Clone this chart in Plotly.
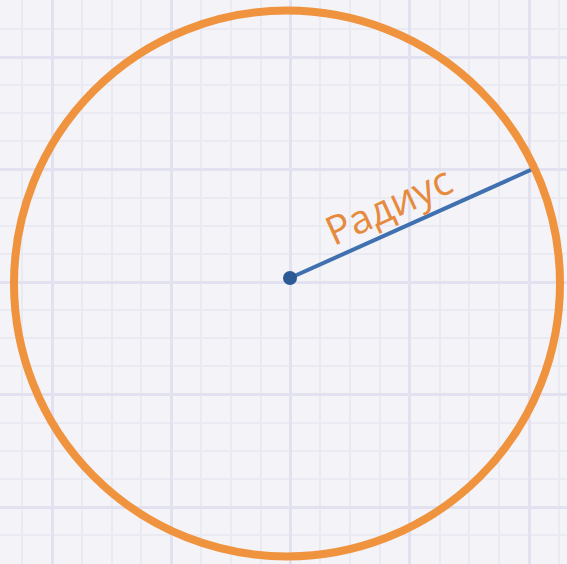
import plotly.graph_objects as go

# Values (pixel-like units, y grows downward)
circle_center = [287, 283.5]
circle_radius = [273.0]
radius_x = [290, 535]
radius_y = [278, 168]
label_text = ["Радиус"]
label_pos = [388, 204]
label_angle = [-24.5]

W, H = 567, 564
bg = "#F3F3F8"

fig = go.Figure()

fig.add_trace(go.Scatter(
    x=radius_x, y=radius_y, mode="lines",
    line=dict(color="#3F70B0", width=4), hoverinfo="skip", showlegend=False))
fig.add_trace(go.Scatter(
    x=radius_x[:1], y=radius_y[:1], mode="markers",
    marker=dict(color="#2C5A94", size=14), hoverinfo="skip", showlegend=False))

cx, cy = circle_center
r = circle_radius[0]
fig.add_shape(type="circle", xref="x", yref="y",
              x0=cx - r, x1=cx + r, y0=cy - r, y1=cy + r,
              fillcolor="rgba(0,0,0,0)",
              line=dict(color="#F0933E", width=8), layer="above")

fig.add_annotation(x=label_pos[0], y=label_pos[1], text=label_text[0],
                   showarrow=False, textangle=label_angle[0],
                   font=dict(family="Open Sans", size=40, color="#E68A3D"))

fig.update_xaxes(range=[0, W], showticklabels=False, zeroline=False,
                 showgrid=True, gridcolor="#E1E1EF", gridwidth=3,
                 tick0=52, dtick=119.25, ticks="",
                 minor=dict(showgrid=True, gridcolor="#EAEAF3", gridwidth=2,
                            tick0=52, dtick=29.81))
fig.update_yaxes(range=[H, 0], showticklabels=False, zeroline=False,
                 showgrid=True, gridcolor="#E1E1EF", gridwidth=3,
                 tick0=57, dtick=112.5, ticks="",
                 minor=dict(showgrid=True, gridcolor="#EAEAF3", gridwidth=2,
                            tick0=57, dtick=28.125))

fig.update_layout(width=W, height=H, margin=dict(l=0, r=0, t=0, b=0),
                  paper_bgcolor=bg, plot_bgcolor=bg, showlegend=False)

post = (
    "document.body.style.margin='0';"
    "document.body.style.background='%s';"
) % bg

fig.write_html("out.html", config={"displayModeBar": False}, post_script=post)
